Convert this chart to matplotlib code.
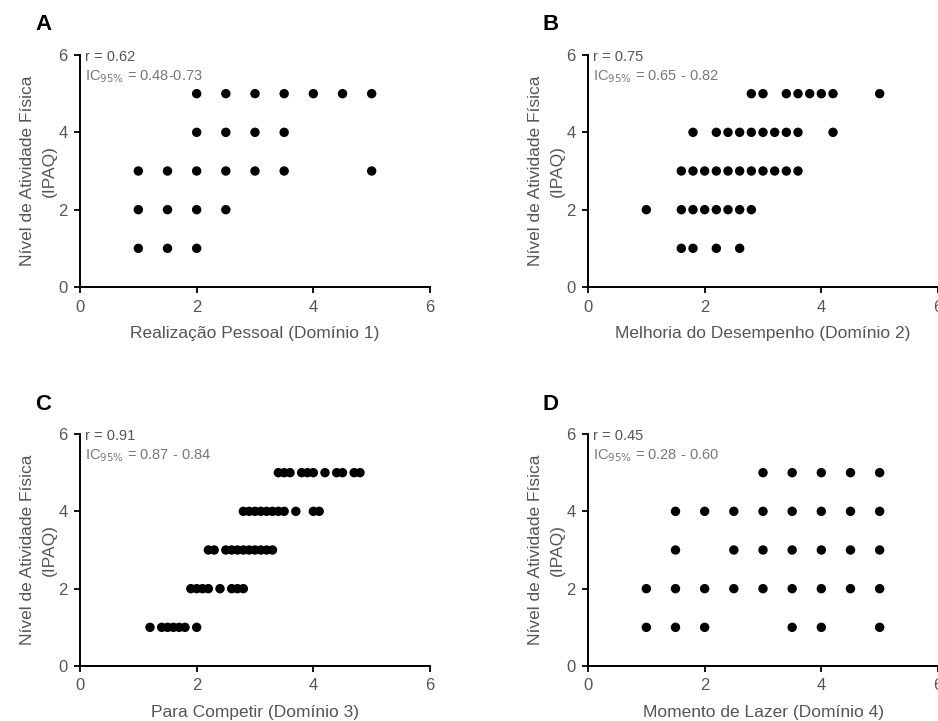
import matplotlib
matplotlib.use('Agg')
import matplotlib.pyplot as plt

# Dados (dominios x nivel de atividade fisica IPAQ)
a_x = [2.0, 2.5, 3.0, 3.5, 4.0, 4.5, 5.0,
       2.0, 2.5, 3.0, 3.5,
       1.0, 1.5, 2.0, 2.5, 3.0, 3.5, 5.0,
       1.0, 1.5, 2.0, 2.5,
       1.0, 1.5, 2.0]
a_y = [5] * 7 + [4] * 4 + [3] * 7 + [2] * 4 + [1] * 3

b_x = [2.8, 3.0, 3.4, 3.6, 3.8, 4.0, 4.2, 5.0,
       1.8, 2.2, 2.4, 2.6, 2.8, 3.0, 3.2, 3.4, 3.6, 4.2,
       1.6, 1.8, 2.0, 2.2, 2.4, 2.6, 2.8, 3.0, 3.2, 3.4, 3.6,
       1.0, 1.6, 1.8, 2.0, 2.2, 2.4, 2.6, 2.8,
       1.6, 1.8, 2.2, 2.6]
b_y = [5] * 8 + [4] * 10 + [3] * 11 + [2] * 8 + [1] * 4

c_x = [3.4, 3.5, 3.6, 3.8, 3.9, 4.0, 4.2, 4.4, 4.5, 4.7, 4.8,
       2.8, 2.9, 3.0, 3.1, 3.2, 3.3, 3.4, 3.5, 3.7, 4.0, 4.1,
       2.2, 2.3, 2.5, 2.6, 2.7, 2.8, 2.9, 3.0, 3.1, 3.2, 3.3,
       1.9, 2.0, 2.1, 2.2, 2.4, 2.6, 2.7, 2.8,
       1.2, 1.4, 1.5, 1.6, 1.7, 1.8, 2.0]
c_y = [5] * 11 + [4] * 11 + [3] * 11 + [2] * 8 + [1] * 7

d_x = [3.0, 3.5, 4.0, 4.5, 5.0,
       1.5, 2.0, 2.5, 3.0, 3.5, 4.0, 4.5, 5.0,
       1.5, 2.5, 3.0, 3.5, 4.0, 4.5, 5.0,
       1.0, 1.5, 2.0, 2.5, 3.0, 3.5, 4.0, 4.5, 5.0,
       1.0, 1.5, 2.0, 3.5, 4.0, 5.0]
d_y = [5] * 5 + [4] * 8 + [3] * 7 + [2] * 9 + [1] * 6

letras = ['A', 'B', 'C', 'D']
rotulos_x = ['Realização Pessoal (Domínio 1)',
             'Melhoria do Desempenho (Domínio 2)',
             'Para Competir (Domínio 3)',
             'Momento de Lazer (Domínio 4)']
r_vals = ['0.62', '0.75', '0.91', '0.45']
ic_vals = ['0.48-0.73', '0.65 - 0.82', '0.87 - 0.84', '0.28 - 0.60']

dados = [(a_x, a_y), (b_x, b_y), (c_x, c_y), (d_x, d_y)]

plt.rcParams['font.family'] = ['Liberation Sans', 'DejaVu Sans']

fig = plt.figure(figsize=(9.38, 7.21), dpi=100)
W, H = 938, 721

# posicoes dos eixos em pixels (esquerda, topo)
pos = [(80, 55), (588, 55), (80, 434), (588, 434)]
larg, alt = 350, 232

for i, (xs, ys) in enumerate(dados):
    left, top = pos[i]
    ax = fig.add_axes([left / W, 1 - (top + alt) / H, larg / W, alt / H])
    ax.scatter(xs, ys, s=46, color='black', edgecolors='none', zorder=3)

    ax.set_xlim(0, 6)
    ax.set_ylim(0, 6)
    ax.set_xticks([0, 2, 4, 6])
    ax.set_yticks([0, 2, 4, 6])
    for lado in ['top', 'right']:
        ax.spines[lado].set_visible(False)
    for lado in ['left', 'bottom']:
        ax.spines[lado].set_linewidth(1.4)
    ax.tick_params(direction='out', length=4, width=1.3, labelsize=12,
                   labelcolor='#555555', pad=5)

    ax.set_xlabel(rotulos_x[i], fontsize=12.5, color='#555555', labelpad=8)
    ax.set_ylabel('Nível de Atividade Física\n(IPAQ)', fontsize=12.5,
                  color='#555555', labelpad=1, linespacing=1.6)

    ax.text(0.015, 0.99, 'r = ' + r_vals[i], transform=ax.transAxes,
            fontsize=10.5, color='#555555', va='center', ha='left')
    ax.text(0.015, 0.905, r'IC$_{95\%}$ = ' + ic_vals[i], transform=ax.transAxes,
            fontsize=10.5, color='#777777', va='center', ha='left')

    fig.text((left - 37) / W, 1 - (top - 30) / H, letras[i], fontsize=16,
             fontweight='bold', va='center', ha='center')

fig.savefig('out.png', dpi=100)
